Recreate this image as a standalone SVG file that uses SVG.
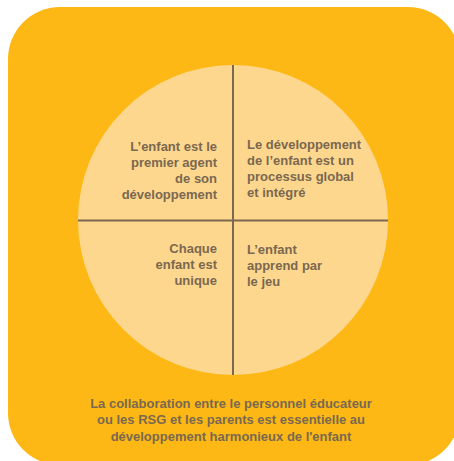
<svg xmlns="http://www.w3.org/2000/svg" width="454" height="461" viewBox="0 0 454 461">
<style>
.t{font-family:"Liberation Sans",Arial,sans-serif;font-weight:bold;font-size:13px;fill:#7a6850}
.r{text-anchor:end}
.c{text-anchor:middle}
.ln{stroke:#7a6850;stroke-width:2;fill:none}
</style>
<rect id="background" x="8" y="7" width="452" height="458" rx="52" ry="52" fill="#FDB816"/>
<g id="circle"><circle cx="233" cy="220" r="155" fill="#FED78E"/></g>
<g id="connectors">
<line class="ln" x1="233" y1="65" x2="233" y2="375"/>
<line class="ln" x1="78" y1="220.5" x2="388" y2="220.5"/>
</g>
<g id="q1"><text class="t r"><tspan x="217" y="151">L’enfant est le</tspan><tspan x="217" y="167">premier agent</tspan><tspan x="217" y="183">de son</tspan><tspan x="217" y="199">développement</tspan></text></g>
<g id="q2"><text class="t"><tspan x="247" y="149">Le développement</tspan><tspan x="247" y="165">de l’enfant est un</tspan><tspan x="247" y="181">processus global</tspan><tspan x="247" y="197">et intégré</tspan></text></g>
<g id="q3"><text class="t r"><tspan x="217" y="253">Chaque</tspan><tspan x="217" y="269">enfant est</tspan><tspan x="217" y="285">unique</tspan></text></g>
<g id="q4"><text class="t"><tspan x="247" y="254">L’enfant</tspan><tspan x="247" y="270">apprend par</tspan><tspan x="247" y="286">le jeu</tspan></text></g>
<g id="caption"><text class="t c"><tspan x="231" y="408">La collaboration entre le personnel éducateur</tspan><tspan x="231" y="424">ou les RSG et les parents est essentielle au</tspan><tspan x="231" y="441">développement harmonieux de l'enfant</tspan></text></g>
</svg>
